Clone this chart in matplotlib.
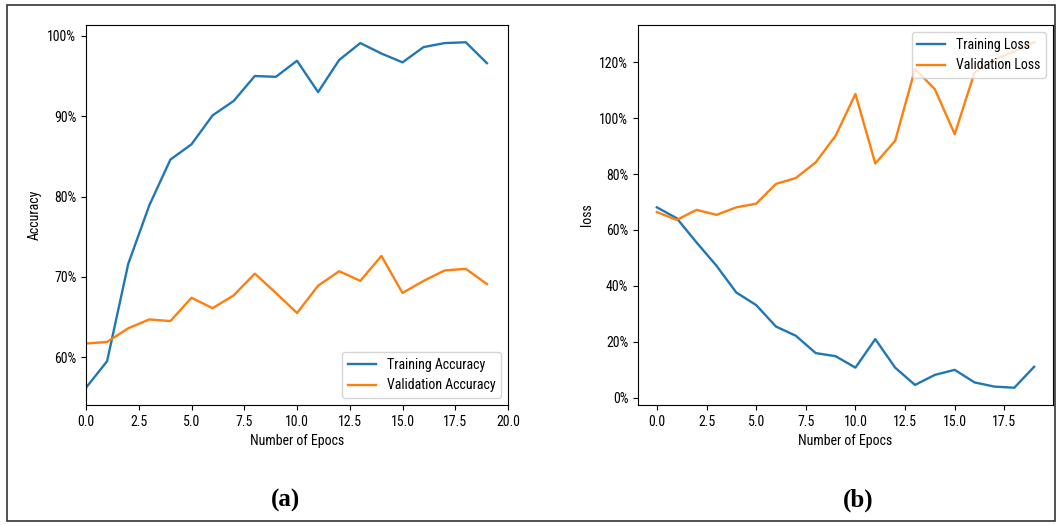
import matplotlib
matplotlib.use("Agg")
import matplotlib.pyplot as plt
from matplotlib.ticker import PercentFormatter
from matplotlib.patches import Rectangle
from matplotlib import font_manager

names = sorted({f.name for f in font_manager.fontManager.ttflist})
print(names)

epochs = list(range(20))
train_acc = [0.562, 0.595, 0.716, 0.789, 0.846, 0.865, 0.901, 0.919, 0.950, 0.949,
             0.969, 0.930, 0.970, 0.991, 0.978, 0.967, 0.986, 0.991, 0.992, 0.966]
val_acc = [0.617, 0.619, 0.636, 0.647, 0.645, 0.674, 0.661, 0.677, 0.704, 0.680,
           0.655, 0.689, 0.707, 0.695, 0.726, 0.680, 0.695, 0.708, 0.710, 0.691]
train_loss = [0.681, 0.642, 0.555, 0.472, 0.376, 0.331, 0.254, 0.221, 0.159, 0.148,
              0.107, 0.209, 0.107, 0.045, 0.081, 0.099, 0.054, 0.039, 0.035, 0.110]
val_loss = [0.664, 0.636, 0.672, 0.654, 0.681, 0.694, 0.765, 0.786, 0.842, 0.937,
            1.087, 0.838, 0.919, 1.176, 1.104, 0.943, 1.164, 1.210, 1.240, 1.272]

if "DejaVu Sans Condensed" in names:
    plt.rcParams["font.family"] = ["DejaVu Sans Condensed", "DejaVu Sans"]
elif "Roboto Condensed" in names:
    plt.rcParams["font.family"] = ["Roboto Condensed", "DejaVu Sans"]

fig = plt.figure(figsize=(10.57, 5.25), dpi=100)

ax1 = fig.add_axes([86/1057, 1-405/525, (508-86)/1057, 380/525])
ax1.plot(epochs, train_acc, label="Training Accuracy", linewidth=1.7)
ax1.plot(epochs, val_acc, label="Validation Accuracy", linewidth=1.7)
ax1.set_xlim(0, 20)
ax1.yaxis.set_major_formatter(PercentFormatter(1, decimals=0))
ax1.set_xlabel("Number of Epocs")
ax1.set_ylabel("Accuracy")
ax1.legend(loc="lower right")

ax2 = fig.add_axes([638/1057, 1-405/525, (1053-638)/1057, 380/525])
ax2.plot(epochs, train_loss, label="Training Loss", linewidth=1.7)
ax2.plot(epochs, val_loss, label="Validation Loss", linewidth=1.7)
ax2.yaxis.set_major_formatter(PercentFormatter(1, decimals=0))
ax2.set_xlabel("Number of Epocs")
ax2.set_ylabel("loss")
ax2.legend(loc="upper right")

fig.text(285/1057, 1-500/525, "(a)", ha="center", va="center",
         fontfamily="Liberation Serif", fontweight="bold", fontsize=18)
fig.text(858/1057, 1-500/525, "(b)", ha="center", va="center",
         fontfamily="Liberation Serif", fontweight="bold", fontsize=18)

fig.patches.append(Rectangle((7/1057, 1-521/525), (1055-7)/1057, (521-5)/525,
                             transform=fig.transFigure, fill=False,
                             edgecolor="#333333", linewidth=1.2))

fig.savefig("out.png", dpi=100)
